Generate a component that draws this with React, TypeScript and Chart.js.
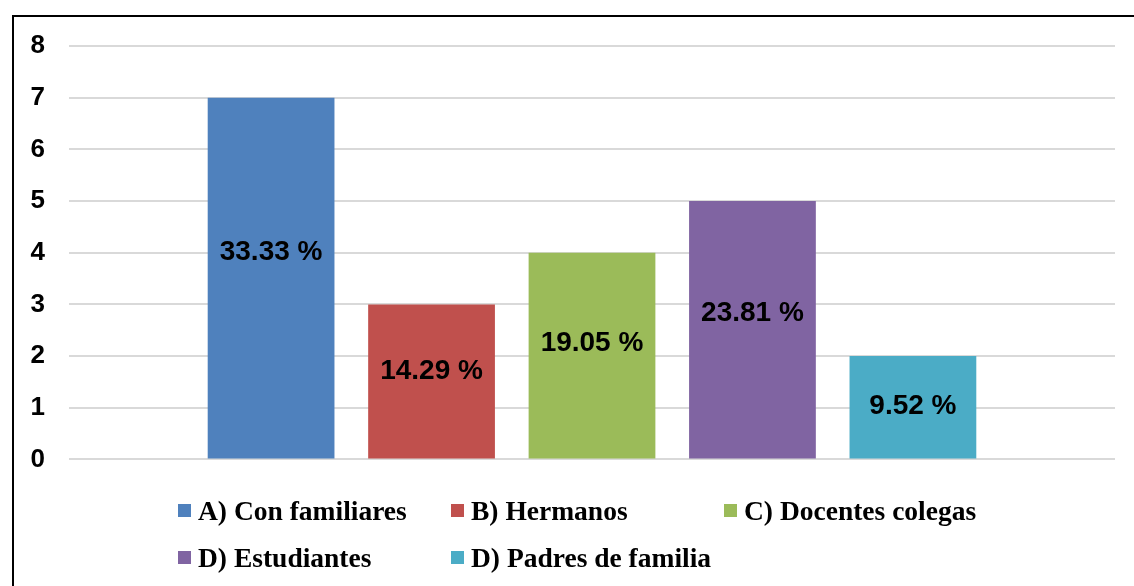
import React, { useEffect, useRef } from "react";
import { Chart, registerables } from "chart.js";

Chart.register(...registerables);

const categories = ["A) Con familiares", "B) Hermanos", "C) Docentes colegas", "D) Estudiantes", "D) Padres de familia"];
const values = [7, 3, 4, 5, 2];
const percentLabels = ["33.33 %", "14.29 %", "19.05 %", "23.81 %", "9.52 %"];
const labelAt = [4.0, 1.7, 2.24, 2.82, 1.03];
const colors = ["#4f81bd", "#c0504d", "#9bbb59", "#8064a2", "#4bacc6"];
const yTicks = [0, 1, 2, 3, 4, 5, 6, 7, 8];

const SANS = "'Liberation Sans', Arial, sans-serif";
const SERIF = "'Liberation Serif', 'Times New Roman', serif";

const labelPlugin = {
  id: "pctLabels",
  afterDatasetsDraw(chart: any) {
    const ctx = chart.ctx;
    const y = chart.scales.y;
    ctx.save();
    ctx.font = `bold 28px ${SANS}`;
    ctx.fillStyle = "#000";
    ctx.textAlign = "center";
    ctx.textBaseline = "middle";
    chart.data.datasets.forEach((ds: any, i: number) => {
      const meta = chart.getDatasetMeta(i);
      const bar = meta.data[0];
      ctx.fillText(percentLabels[i], bar.x, y.getPixelForValue(labelAt[i]));
    });
    ctx.restore();
  },
};

export default function App() {
  const ref = useRef<HTMLCanvasElement | null>(null);
  useEffect(() => {
    if (!ref.current) return;
    const chart = new Chart(ref.current, {
      type: "bar",
      data: {
        labels: [""],
        datasets: categories.map((c, i) => ({
          label: c,
          data: [values[i]],
          backgroundColor: colors[i],
          borderWidth: 0,
          categoryPercentage: 0.767,
          barPercentage: 0.79,
        })),
      },
      options: {
        animation: false,
        responsive: false,
        maintainAspectRatio: false,
        layout: { padding: { left: 0, right: 19, top: 46, bottom: 22 } },
        plugins: { legend: { display: false }, tooltip: { enabled: false } },
        scales: {
          x: { display: false },
          y: {
            min: 0,
            max: 8,
            afterFit: (s: any) => {
              s.width = 55;
            },
            afterBuildTicks: (s: any) => {
              s.ticks = yTicks.map((v) => ({ value: v }));
            },
            border: { display: false },
            grid: { color: "#d9d9d9", lineWidth: 2, drawTicks: false },
            ticks: {
              padding: 24,
              color: "#000",
              font: { family: SANS, weight: "bold", size: 26 },
            },
          },
        },
      },
      plugins: [labelPlugin],
    });
    return () => chart.destroy();
  }, []);

  return (
    <div style={{ position: "fixed", left: 0, top: 0, width: 1134, height: 586, background: "#fff", overflow: "hidden" }}>
      <div
        style={{
          position: "absolute",
          left: 12,
          top: 15,
          width: 1300,
          height: 800,
          borderLeft: "2px solid #000",
          borderTop: "2px solid #000",
        }}
      />
      <canvas ref={ref} width={1120} height={499} style={{ position: "absolute", left: 14, top: 0, width: 1120, height: 499 }} />
      <div
        style={{
          position: "absolute",
          left: 178,
          top: 487,
          display: "grid",
          gridTemplateColumns: "273px 273px 273px",
          gridAutoRows: "47px",
          fontFamily: SERIF,
          fontWeight: "bold",
          fontSize: 27.5,
          color: "#000",
        }}
      >
        {categories.map((c, i) => (
          <div key={i} style={{ display: "flex", alignItems: "center", whiteSpace: "nowrap" }}>
            <span style={{ display: "inline-block", width: 13, height: 13, background: colors[i], marginRight: 7, flex: "none" }} />
            <span>{c}</span>
          </div>
        ))}
      </div>
    </div>
  );
}
